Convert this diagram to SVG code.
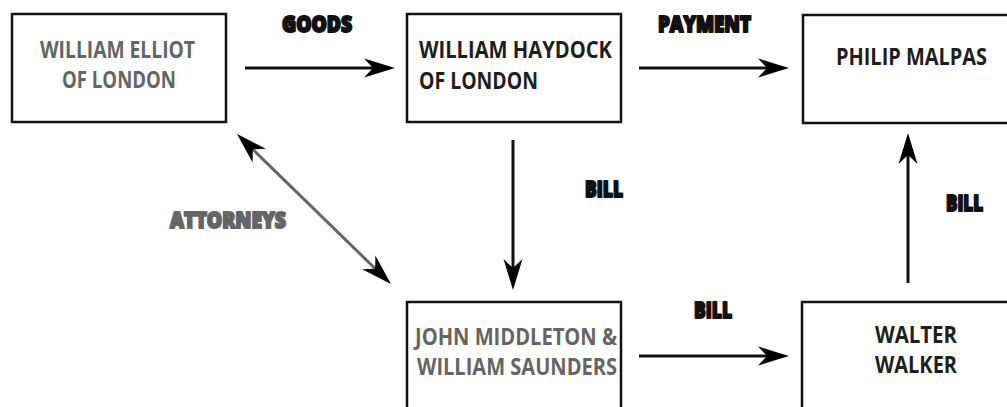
<svg xmlns="http://www.w3.org/2000/svg" width="1007" height="407" viewBox="0 0 1007 407">
<style>
.box{fill:#fff;stroke:#111;stroke-width:2.5}
.nt{font-family:"Open Sans","Liberation Sans",sans-serif;font-weight:700;font-size:23px}
.grey{fill:#656565}
.dark{fill:#1e1e1e}
.lbl{font-family:"Open Sans","Liberation Sans",sans-serif;font-weight:800;font-size:22px;fill:#111;stroke:#111;stroke-width:2;stroke-linejoin:round}
.lbl.g{fill:#656565;stroke:#656565}
.ln{fill:none;stroke:#111;stroke-width:3;marker-end:url(#ah)}
.ln2{fill:none;stroke:#666;stroke-width:3;marker-start:url(#ah);marker-end:url(#ah)}
</style>
<defs>
<marker id="ah" viewBox="-33 -11 34 22" refX="-10" refY="0" markerWidth="34" markerHeight="22" markerUnits="userSpaceOnUse" orient="auto-start-reverse">
<path d="M0,0 L-31,-9.5 L-22,0 L-31,9.5 Z" fill="#000"/>
</marker>
</defs>
<rect width="1007" height="407" fill="#fff"/>
<g id="connectors">
<line class="ln" x1="245" y1="68" x2="385" y2="68"/>
<line class="ln" x1="639" y1="68" x2="779" y2="68"/>
<line class="ln" x1="639" y1="356" x2="779" y2="356"/>
<line class="ln" x1="513" y1="140" x2="513" y2="280"/>
<line class="ln" x1="908" y1="283" x2="908" y2="143"/>
<line class="ln2" x1="244.2" y1="141" x2="383.8" y2="277"/>
<text class="lbl" x="282" y="32" textLength="70" lengthAdjust="spacingAndGlyphs">GOODS</text>
<text class="lbl" x="658" y="32" textLength="93" lengthAdjust="spacingAndGlyphs">PAYMENT</text>
<text class="lbl" x="585" y="197" textLength="38" lengthAdjust="spacingAndGlyphs">BILL</text>
<text class="lbl" x="946" y="211" textLength="37" lengthAdjust="spacingAndGlyphs">BILL</text>
<text class="lbl" x="694" y="318" textLength="38" lengthAdjust="spacingAndGlyphs">BILL</text>
<text class="lbl g" x="170" y="228" textLength="116" lengthAdjust="spacingAndGlyphs">ATTORNEYS</text>
</g>
<g id="elliot">
<rect class="box" x="12" y="14" width="214" height="108"/>
<text class="nt grey" x="40" y="58" textLength="155" lengthAdjust="spacingAndGlyphs">WILLIAM ELLIOT</text>
<text class="nt grey" x="62" y="88" textLength="114" lengthAdjust="spacingAndGlyphs">OF LONDON</text>
</g>
<g id="haydock">
<rect class="box" x="407" y="14" width="214" height="108"/>
<text class="nt dark" x="419" y="58" textLength="193" lengthAdjust="spacingAndGlyphs">WILLIAM HAYDOCK</text>
<text class="nt dark" x="419" y="89" textLength="119" lengthAdjust="spacingAndGlyphs">OF LONDON</text>
</g>
<g id="malpas">
<path class="box" d="M1007,15 H803 V123 H1007"/>
<text class="nt dark" x="836" y="65" textLength="151" lengthAdjust="spacingAndGlyphs">PHILIP MALPAS</text>
</g>
<g id="middleton">
<path class="box" d="M407,407 V302 H621 V407"/>
<text class="nt grey" x="415" y="345" textLength="202" lengthAdjust="spacingAndGlyphs">JOHN MIDDLETON &amp;</text>
<text class="nt grey" x="417" y="375" textLength="200" lengthAdjust="spacingAndGlyphs">WILLIAM SAUNDERS</text>
</g>
<g id="walker">
<path class="box" d="M802,407 V302 H1007"/>
<text class="nt dark" x="875" y="343" textLength="82" lengthAdjust="spacingAndGlyphs">WALTER</text>
<text class="nt dark" x="875" y="373" textLength="82" lengthAdjust="spacingAndGlyphs">WALKER</text>
</g>
</svg>
